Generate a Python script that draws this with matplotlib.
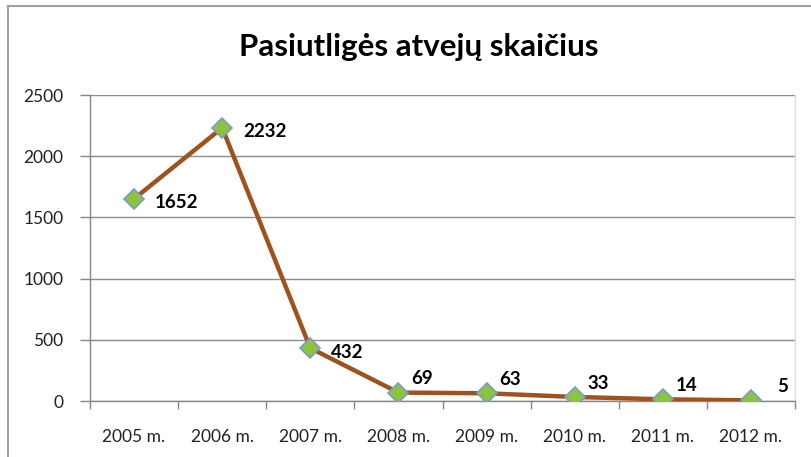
import matplotlib
matplotlib.use("Agg")
import matplotlib.pyplot as plt
from matplotlib.lines import Line2D

title = "Pasiutligės atvejų skaičius"
categories = ["2005 m.", "2006 m.", "2007 m.", "2008 m.", "2009 m.", "2010 m.", "2011 m.", "2012 m."]
values = [1652, 2232, 432, 69, 63, 33, 14, 5]
yticks = [0, 500, 1000, 1500, 2000, 2500]

plt.rcParams['font.family'] = ['Lato', 'DejaVu Sans']

W, H = 811, 457
fig = plt.figure(figsize=(W / 100, H / 100), dpi=100)
fig.patch.set_facecolor("white")

# plot area in pixels: left 90, right 795, top 95, bottom 401
ax = fig.add_axes([90 / W, 1 - 401 / H, (795 - 90) / W, (401 - 95) / H])

x = list(range(len(categories)))
ax.plot(x, values, color="#A0521E", lw=3.2, solid_joinstyle="miter", zorder=3,
        marker="D", markersize=10.5, markerfacecolor="#8CC43F",
        markeredgecolor="#7A9CC6", markeredgewidth=1.2)

for xi, v in zip(x, values):
    if v > 300:
        off = (15, -3)
    else:
        off = (9, 10)
    if v < 10:
        off = (19, 10)
    ax.annotate(str(v), (xi, v), xytext=off, textcoords="offset points",
                ha="left", va="center", fontsize=13.5, fontweight="bold", color="black",
                zorder=5)

ax.set_xlim(-0.5, len(categories) - 0.5)
ax.set_ylim(0, 2500)
ax.set_yticks(yticks)
ax.set_yticklabels([str(t) for t in yticks], fontsize=12.5, color="#222222")
ax.set_xticks([i - 0.5 for i in range(len(categories) + 1)])
ax.set_xticklabels([])
ax.set_xticks(x, minor=True)
ax.set_xticklabels(categories, minor=True, fontsize=12.5, color="#222222")
ax.tick_params(axis="x", which="minor", length=0, pad=20)
ax.tick_params(axis="x", which="major", length=6, color="#868686", width=1)
ax.tick_params(axis="y", length=7, color="#868686", width=1, pad=12)

ax.yaxis.grid(True, color="#8C8C8C", lw=1)
ax.set_axisbelow(True)
for s in ["left", "bottom"]:
    ax.spines[s].set_color("#868686")
    ax.spines[s].set_linewidth(1)
ax.spines["top"].set_visible(False)
ax.spines["right"].set_color("#DDDDDD")
ax.spines["right"].set_linewidth(1)

fig.text(419 / W, 1 - 47 / H, title, ha="center", va="center",
         fontsize=22.5, fontweight="bold", color="black")

# outer chart frame (top and left edges visible)
fig.add_artist(Line2D([8 / W, 1.0], [1 - 6 / H, 1 - 6 / H], transform=fig.transFigure,
                      color="#A0A0A0", lw=1.5))
fig.add_artist(Line2D([8 / W, 8 / W], [0, 1 - 6 / H], transform=fig.transFigure,
                      color="#A0A0A0", lw=1.5))

fig.savefig("out.png", dpi=100)
